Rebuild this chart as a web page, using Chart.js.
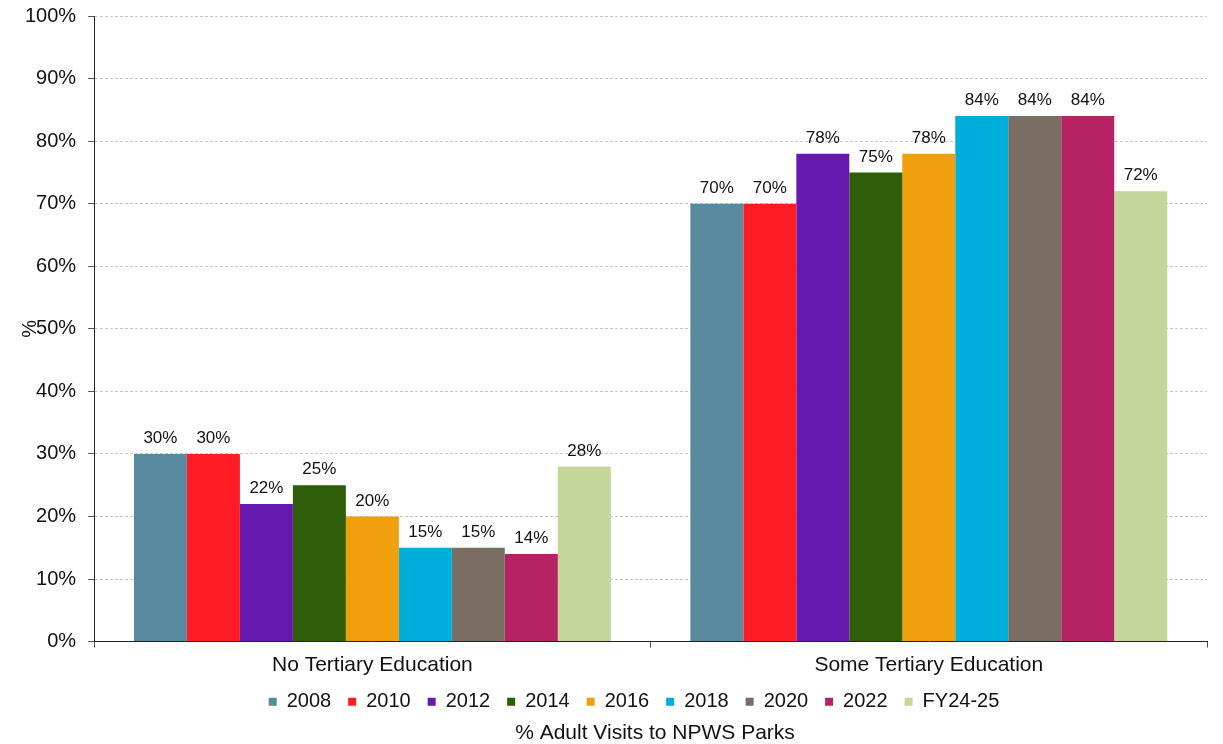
<!DOCTYPE html>
<html>
<head>
<meta charset="utf-8">
<script src="https://cdn.jsdelivr.net/npm/chart.js@4.4.1/dist/chart.umd.min.js"></script>
<style>
  html, body { margin: 0; padding: 0; background: #fff; }
  canvas { display: block; }
</style>
</head>
<body>
<canvas id="c" width="1223" height="744"></canvas>
<script>
const categories = ["No Tertiary Education", "Some Tertiary Education"];
const seriesNames = ["2008", "2010", "2012", "2014", "2016", "2018", "2020", "2022", "FY24-25"];
const values2008 = [30, 70];
const values2010 = [30, 70];
const values2012 = [22, 78];
const values2014 = [25, 75];
const values2016 = [20, 78];
const values2018 = [15, 84];
const values2020 = [15, 84];
const values2022 = [14, 84];
const valuesFY2425 = [28, 72];
const seriesColors = ["#588BA0", "#FF1C24", "#6619AF", "#2F5E0B", "#F0A00C", "#00AEDC", "#7A6E63", "#B52363", "#C4D69A"];
const yTicks = [0, 10, 20, 30, 40, 50, 60, 70, 80, 90, 100];
const yTitle = "%";
const chartTitle = "% Adult Visits to NPWS Parks";

const allValues = [values2008, values2010, values2012, values2014, values2016, values2018, values2020, values2022, valuesFY2425];
const FONT = "'Liberation Sans', Arial, sans-serif";

const labelPlugin = {
  id: 'barLabels',
  afterDatasetsDraw(chart) {
    const ctx = chart.ctx;
    ctx.save();
    ctx.font = "17px " + FONT;
    ctx.fillStyle = "#111";
    ctx.textAlign = "center";
    ctx.textBaseline = "bottom";
    chart.data.datasets.forEach((ds, di) => {
      const meta = chart.getDatasetMeta(di);
      meta.data.forEach((bar, i) => {
        ctx.fillText(ds.data[i] + "%", bar.x, bar.y - 7);
      });
    });
    ctx.restore();
  }
};

const yTitlePlugin = {
  id: 'yTitle',
  afterDraw(chart) {
    const ctx = chart.ctx;
    const y = chart.scales.y;
    ctx.save();
    ctx.font = "20px " + FONT;
    ctx.fillStyle = "#111";
    ctx.translate(30, (y.top + y.bottom) / 2);
    ctx.rotate(-Math.PI / 2);
    ctx.textAlign = "center";
    ctx.textBaseline = "middle";
    ctx.fillText(yTitle, 0, 0);
    ctx.restore();
  }
};

// tighten the legend vertically and nudge legend/title
const layoutTweak = {
  id: 'layoutTweak',
  beforeLayout(chart) {
    const lg = chart.legend;
    if (lg && !lg._tweaked) {
      const orig = lg.fit.bind(lg);
      lg.fit = function () { orig(); this.height -= 11; };
      lg._tweaked = true;
    }
  },
  afterLayout(chart) {
    const lg = chart.legend;
    if (lg) { lg.left += 24; lg.right += 24; lg.top -= 8; lg.bottom -= 8; }
    const t = chart.titleBlock;
    if (t) { t.left += 45; t.right += 45; t.top += 2; t.bottom += 2; }
  }
};

new Chart(document.getElementById('c'), {
  type: 'bar',
  data: {
    labels: categories,
    datasets: seriesNames.map((n, i) => ({
      label: n,
      data: allValues[i],
      backgroundColor: seriesColors[i],
      borderWidth: 0,
      barPercentage: 1.0,
      categoryPercentage: 0.857
    }))
  },
  options: {
    responsive: false,
    animation: false,
    devicePixelRatio: 1,
    layout: { padding: { top: 16, right: 16, left: 13, bottom: 0 } },
    plugins: {
      legend: {
        position: 'bottom',
        labels: {
          font: { family: FONT, size: 20 },
          color: "#111",
          boxWidth: 8,
          boxHeight: 8,
          padding: 17
        }
      },
      title: {
        display: true,
        position: 'bottom',
        text: chartTitle,
        font: { family: FONT, size: 21, weight: 'normal' },
        color: "#111",
        padding: { top: 0, bottom: 0 }
      },
      tooltip: { enabled: false }
    },
    scales: {
      x: {
        offset: true,
        grid: {
          display: true,
          offset: true,
          drawOnChartArea: false,
          drawTicks: true,
          tickLength: 6,
          tickColor: "#555"
        },
        border: { display: true, color: "#222", width: 1 },
        ticks: {
          font: { family: FONT, size: 21 },
          color: "#111",
          padding: 5,
          maxRotation: 0
        }
      },
      y: {
        min: 0,
        max: 100,
        afterBuildTicks(scale) { scale.ticks = yTicks.map(v => ({ value: v })); },
        afterFit(scale) { scale.paddingTop = 0; },
        grid: {
          color: "#c8c8c8",
          lineWidth: 1,
          drawTicks: true,
          tickLength: 6,
          tickColor: "#555"
        },
        border: { display: true, color: "#222", width: 1, dash: [3, 2] },
        ticks: {
          font: { family: FONT, size: 20 },
          color: "#111",
          padding: 12,
          callback: v => v + "%"
        }
      }
    }
  },
  plugins: [labelPlugin, yTitlePlugin, layoutTweak]
});
</script>
</body>
</html>
